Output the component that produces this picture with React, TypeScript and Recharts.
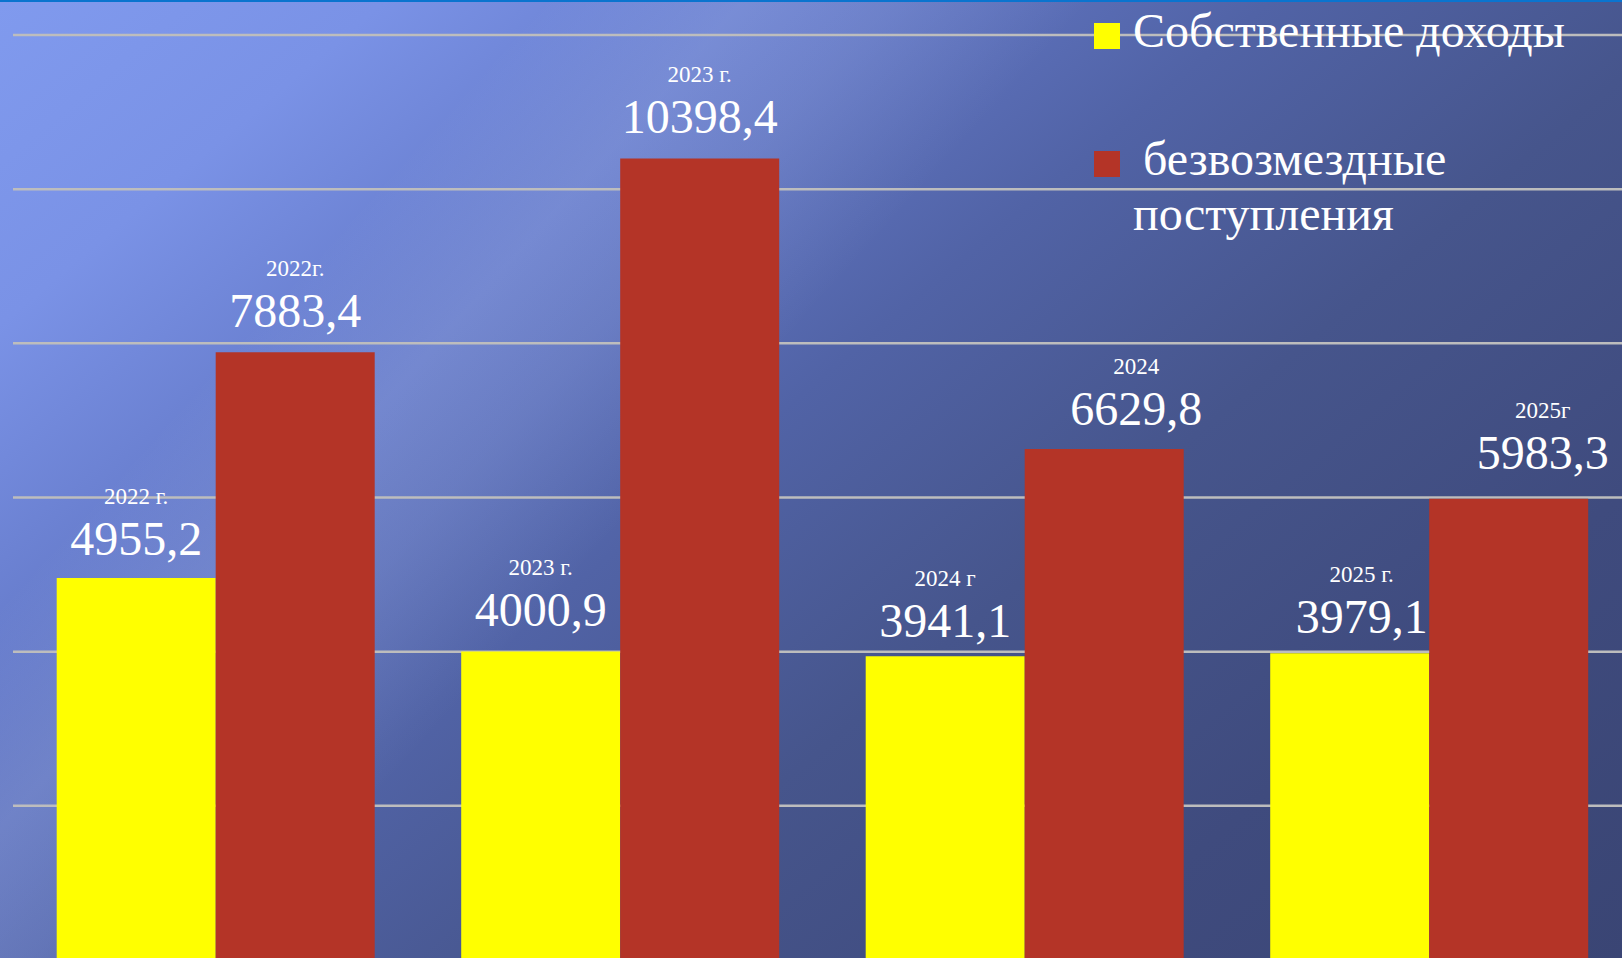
import { BarChart, Bar, XAxis, YAxis, CartesianGrid, Legend, LabelList } from 'recharts';

const CATEGORIES = ['2022', '2023', '2024', '2025'];
const OWN_INCOME = [4955.2, 4000.9, 3941.1, 3979.1];
const GRANTS = [7883.4, 10398.4, 6629.8, 5983.3];
const OWN_YEAR_LABELS = ['2022 г.', '2023 г.', '2024 г', '2025 г.'];
const GRANT_YEAR_LABELS = ['2022г.', '2023 г.', '2024', '2025г'];
const Y_TICKS = [0, 2000, 4000, 6000, 8000, 10000, 12000];

const OWN_NAME = 'Собственные доходы';
const GRANT_NAME = 'безвозмездные поступления';

// ручные сдвиги подписей (как в исходном слайде)
const OWN_NUDGE = [
  { dx: 0, gap: 23 },
  { dx: 0, gap: 26 },
  { dx: 0, gap: 19 },
  { dx: 12, gap: 20 },
];
const GRANT_NUDGE = [
  { dx: 0, gap: 25 },
  { dx: 0, gap: 25 },
  { dx: 32, gap: 24 },
  { dx: 34, gap: 30 },
];

const data = CATEGORIES.map((c, i) => ({ year: c, own: OWN_INCOME[i], grants: GRANTS[i] }));

const FONT = '"Liberation Serif", "Times New Roman", serif';

const fmt = (v: unknown) => Number(v).toFixed(1).replace('.', ',');

function makeLabel(years: string[], nudges: { dx: number; gap: number }[]) {
  return (props: any) => {
    const { x, y, width, index, value } = props;
    const n = nudges[index] || { dx: 0, gap: 24 };
    const cx = Number(x) + Number(width) / 2 + n.dx;
    const base = Number(y) - n.gap;
    return (
      <g>
        <text x={cx} y={base - 51} textAnchor="middle" fontSize={23} fill="#fff" fontFamily={FONT}>
          {years[index]}
        </text>
        <text x={cx} y={base} textAnchor="middle" fontSize={48} fill="#fff" fontFamily={FONT}>
          {fmt(value)}
        </text>
      </g>
    );
  };
}

function LegendBox({ payload }: any) {
  const items = payload || [];
  return (
    <div style={{ position: 'relative', width: 520, height: 240, fontFamily: FONT, color: '#fff' }}>
      {items.map((item: any, i: number) => (
        <div key={item.value} style={{ position: 'absolute', left: 0, top: i === 0 ? 3 : 131 }}>
          <div
            style={{
              position: 'absolute',
              left: 0,
              top: 20,
              width: 26,
              height: 26,
              background: item.color,
            }}
          />
          <div
            style={{
              marginLeft: 39,
              width: 440,
              fontSize: 48,
              lineHeight: '55px',
              textIndent: i === 0 ? 0 : 10,
            }}
          >
            {item.value}
          </div>
        </div>
      ))}
    </div>
  );
}

export default function App() {
  return (
    <div
      style={{
        position: 'absolute',
        left: 0,
        top: 0,
        width: 1622,
        height: 958,
        overflow: 'hidden',
        background:
          'linear-gradient(132deg, rgba(255,255,255,0) 22%, rgba(200,215,255,0.17) 30%, rgba(200,215,255,0.12) 36%, rgba(255,255,255,0) 44%),' +
          'linear-gradient(140deg, #809aee 0%, #7a92e6 14%, #6479c8 30%, #5163a6 46%, #46558c 62%, #3f4b7e 80%, #3a4574 100%)',
      }}
    >
      <div style={{ position: 'absolute', left: 0, top: 0, width: 1622, height: 2, background: '#0a74cf' }} />
      <BarChart
        width={1631}
        height={960}
        data={data}
        margin={{ top: 35, right: 0, bottom: 0, left: 13 }}
        barCategoryGap={43.7}
        barGap={0}
      >
        <CartesianGrid vertical={false} stroke="#bdbdbd" strokeWidth={2.5} />
        <XAxis dataKey="year" hide />
        <YAxis hide domain={[0, 12000]} ticks={Y_TICKS} />
        <Legend
          layout="horizontal"
          verticalAlign="middle"
          content={<LegendBox />}
          wrapperStyle={{ left: 1094, top: 0, width: 520, height: 240 }}
        />
        <Bar dataKey="own" name={OWN_NAME} fill="#ffff00" isAnimationActive={false}>
          <LabelList dataKey="own" content={makeLabel(OWN_YEAR_LABELS, OWN_NUDGE)} />
        </Bar>
        <Bar dataKey="grants" name={GRANT_NAME} fill="#b43427" isAnimationActive={false}>
          <LabelList dataKey="grants" content={makeLabel(GRANT_YEAR_LABELS, GRANT_NUDGE)} />
        </Bar>
      </BarChart>
    </div>
  );
}
